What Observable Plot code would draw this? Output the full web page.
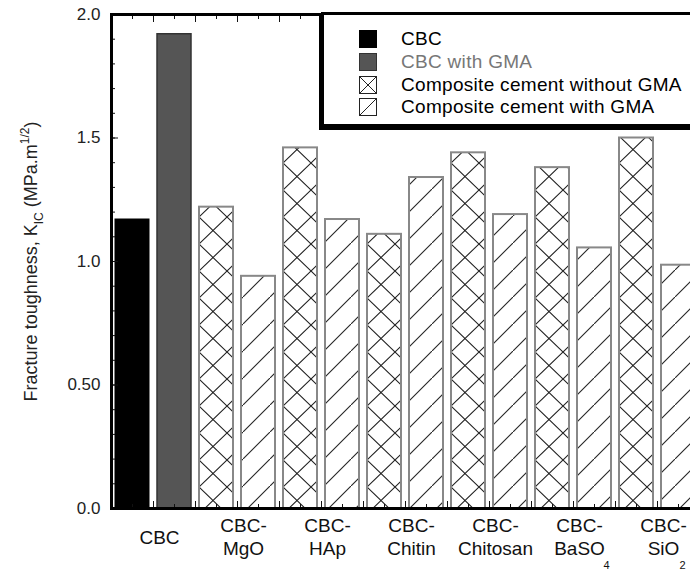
<!DOCTYPE html>
<html><head><meta charset="utf-8">
<script src="https://cdn.jsdelivr.net/npm/d3@7"></script>
<script src="https://cdn.jsdelivr.net/npm/@observablehq/plot@0.6"></script>
<style>
body{margin:0;background:#fff;font-family:"Liberation Sans",Arial,sans-serif;}
#wrap{position:relative;width:690px;height:572px;overflow:hidden;background:#fff;}
#wrap > svg{position:absolute;left:0;top:0;max-width:none !important;width:700px !important;height:572px !important;}
#legend{position:absolute;left:321px;top:12px;width:390px;height:116px;border:3px solid #000;border-bottom-width:4px;background:#fff;box-sizing:border-box;box-shadow:-2px 2px 0 0 #000;}
.row{position:absolute;left:35px;height:18px;}
.row svg{position:absolute;left:0;top:0;}
.row span{position:absolute;left:42px;top:0;line-height:18px;font-size:19px;letter-spacing:0.3px;white-space:nowrap;color:#000;}
</style></head><body>
<div id="wrap"></div>
<script>
// ---- data ----
const groups = ["CBC", "CBC-\nMgO", "CBC-\nHAp", "CBC-\nChitin", "CBC-\nChitosan", "CBC-\nBaSO", "CBC-\nSiO"];
const subscripts = ["", "", "", "", "", "4", "2"];
const withoutGMA = [1.17, 1.22, 1.46, 1.11, 1.44, 1.38, 1.50];
const withGMA = [1.92, 0.94, 1.17, 1.34, 1.19, 1.055, 0.985];
const seriesNames = ["CBC", "CBC with GMA", "Composite cement without GMA", "Composite cement with GMA"];
const yTicks = [0, 0.5, 1, 1.5, 2];
const yTickLabels = ["0.0", "0.50", "1.0", "1.5", "2.0"];
const yTitle = "Fracture toughness, KIC (MPa.m1/2)";

// ---- build table ----
const rows = [];
groups.forEach((g, k) => {
  rows.push({i: 2 * k, v: withoutGMA[k], type: k === 0 ? seriesNames[0] : seriesNames[2]});
  rows.push({i: 2 * k + 1, v: withGMA[k], type: k === 0 ? seriesNames[1] : seriesNames[3]});
});
const styles = {
  [seriesNames[0]]: {fill: "#000", stroke: "#000", strokeWidth: 1},
  [seriesNames[1]]: {fill: "#555", stroke: "#333", strokeWidth: 1.5},
  [seriesNames[2]]: {fill: "url(#cross)", stroke: "#888", strokeWidth: 2},
  [seriesNames[3]]: {fill: "url(#hatch)", stroke: "#888", strokeWidth: 2}
};
const nBars = rows.length;
const xMajor = d3.range(1, nBars);
const xMinor = d3.range(nBars).map(k => k + 0.5);
const yMinor = d3.range(0, 21).map(k => k / 10);

const barMarks = seriesNames.map(s => Plot.rect(rows.filter(r => r.type === s), {
  x1: d => d.i, x2: d => d.i + 1, y1: d => 0, y2: "v",
  insetLeft: 4, insetRight: 4, ...styles[s]
}));

const fmt = d => yTickLabels[yTicks.indexOf(d)];

const plot = Plot.plot({
  width: 700, height: 572,
  marginLeft: 111, marginRight: 1, marginTop: 14, marginBottom: 64,
  style: {fontFamily: "'Liberation Sans', Arial, sans-serif", background: "transparent", color: "#111", maxWidth: "none"},
  x: {domain: [0, nBars], label: null},
  y: {domain: [0, 2], label: null},
  marks: [
    ...barMarks,
    Plot.axisY(yTicks, {tickSize: 0, tickPadding: 11, tickFormat: fmt, fontSize: 17, fill: "#222", label: null}),
    Plot.axisY(yTicks, {tickSize: -7, tickFormat: () => "", label: null}),
    Plot.axisY(yMinor, {tickSize: -4, tickFormat: () => "", label: null}),
    Plot.axisX(xMajor, {anchor: "top", tickSize: -7, tickFormat: () => "", label: null}),
    Plot.axisX(xMinor, {anchor: "top", tickSize: -4, tickFormat: () => "", label: null}),
    Plot.axisX(xMajor, {anchor: "bottom", tickSize: -7, tickFormat: () => "", label: null}),
    Plot.axisX(xMinor, {anchor: "bottom", tickSize: -4, tickFormat: () => "", label: null}),
    Plot.frame({stroke: "#000", strokeWidth: 3}),
    Plot.text(groups, {x: (d, i) => 2 * i + 1, y: () => 0, dx: 6, dy: 28, lineAnchor: "middle", lineHeight: 1.2, fontSize: 19, fill: "#111"}),
    Plot.text([subscripts[5]], {x: () => 2 * 5 + 1, y: () => 0, dx: 33, dy: 57, fontSize: 11, fill: "#111"}),
    Plot.text([subscripts[6]], {x: () => 2 * 6 + 1, y: () => 0, dx: 25, dy: 57, fontSize: 11, fill: "#111"}),
    Plot.text([yTitle], {frameAnchor: "left", dx: -80, rotate: -90, textAnchor: "middle", fontSize: 18, fill: "#222"})
  ]
});

// patterns
const svg = d3.select(plot);
const defs = svg.insert("defs", ":first-child");
const W = 28, H = 27;
const cross = defs.append("pattern").attr("id", "cross").attr("patternUnits", "userSpaceOnUse")
  .attr("x", 3).attr("y", 1).attr("width", W).attr("height", H);
cross.append("rect").attr("width", W).attr("height", H).attr("fill", "#fff");
cross.append("path").attr("d", `M${-W / 2},${-H / 2}L${1.5 * W},${1.5 * H}M${-W / 2},${1.5 * H}L${1.5 * W},${-H / 2}`)
  .attr("stroke", "#222").attr("stroke-width", 1.1).attr("fill", "none");
const hatch = defs.append("pattern").attr("id", "hatch").attr("patternUnits", "userSpaceOnUse")
  .attr("width", H).attr("height", H);
hatch.append("rect").attr("width", H).attr("height", H).attr("fill", "#fff");
hatch.append("path").attr("d", `M${-H / 2},${1.5 * H}L${1.5 * H},${-H / 2}`)
  .attr("stroke", "#222").attr("stroke-width", 1.1).attr("fill", "none");

// y title with sub/superscripts
svg.selectAll("text").filter(function () { return this.textContent === yTitle; }).each(function () {
  const t = d3.select(this);
  t.text(null);
  t.append("tspan").text("Fracture toughness, K");
  t.append("tspan").attr("dy", 6).attr("font-size", 12).text("IC");
  t.append("tspan").attr("dy", -6).text(" (MPa.m");
  t.append("tspan").attr("dy", -8).attr("font-size", 12).text("1/2");
  t.append("tspan").attr("dy", 8).text(")");
});

const wrap = document.getElementById("wrap");
wrap.appendChild(plot);

// legend
const legend = document.createElement("div");
legend.id = "legend";
const swatch = [
  '<rect x="0.5" y="0.5" width="17" height="17" fill="#000" stroke="#000"/>',
  '<rect x="0.5" y="0.5" width="17" height="17" fill="#555" stroke="#333"/>',
  '<rect x="0.5" y="0.5" width="17" height="17" fill="#fff" stroke="#222"/><path d="M0.5,17.5L17.5,0.5M0.5,0.5L17.5,17.5" stroke="#222" fill="none"/>',
  '<rect x="0.5" y="0.5" width="17" height="17" fill="#fff" stroke="#222"/><path d="M0.5,17.5L17.5,0.5" stroke="#222" fill="none"/>'
];
const rowTops = [15, 38, 61, 83];
seriesNames.forEach((s, k) => {
  const r = document.createElement("div");
  r.className = "row";
  r.style.top = rowTops[k] + "px";
  r.innerHTML = `<svg width="18" height="18">${swatch[k]}</svg><span style="color:${k === 1 ? '#777' : '#000'}">${s}</span>`;
  legend.appendChild(r);
});
wrap.appendChild(legend);
</script>
</body></html>
